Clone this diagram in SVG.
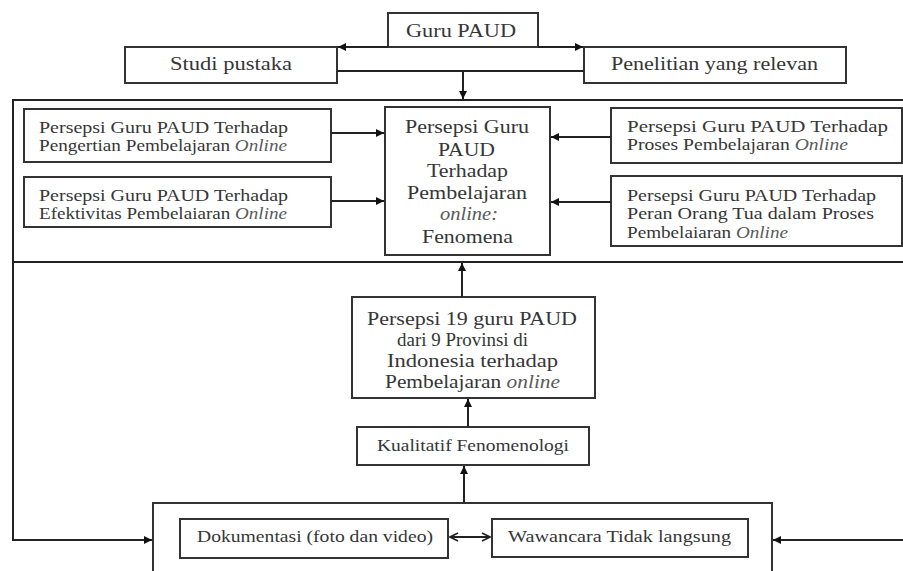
<svg xmlns="http://www.w3.org/2000/svg" width="903" height="571" viewBox="0 0 903 571">
<defs>
<style>
.box{fill:#fff;stroke:#333;stroke-width:2}
.ln{fill:none;stroke:#222;stroke-width:2}
.t{font-family:"Liberation Serif","Times New Roman",serif;fill:#363636}
.s17{font-size:17px}
.s18{font-size:18px}
.s19{font-size:19px}
.it{font-style:italic;fill:#5a5a5a}
</style>
<marker id="ah" viewBox="0 0 10 10" refX="10" refY="5" markerWidth="9" markerHeight="8" markerUnits="userSpaceOnUse" orient="auto">
<path d="M0,0 L10,5 L0,10 z" fill="#111"/>
</marker>
<marker id="oh" viewBox="0 0 10 10" refX="9" refY="5" markerWidth="10" markerHeight="10" markerUnits="userSpaceOnUse" orient="auto-start-reverse">
<path d="M1,1 L9,5 L1,9" fill="none" stroke="#222" stroke-width="1.6"/>
</marker>
</defs>
<rect width="903" height="571" fill="#fff"/>

<g id="frame">
<path class="ln" d="M903,100 H13 V262 H903"/>
</g>

<g id="guru">
<rect class="box" x="388" y="13" width="150" height="34"/>
<text class="t s18" x="406" y="37" textLength="110" lengthAdjust="spacingAndGlyphs">Guru PAUD</text>
</g>
<g id="studi">
<rect class="box" x="125" y="47" width="212" height="36"/>
<text class="t s18" x="170" y="70" textLength="122" lengthAdjust="spacingAndGlyphs">Studi pustaka</text>
</g>
<g id="penelitian">
<rect class="box" x="584" y="47" width="262" height="36"/>
<text class="t s18" x="611" y="70" textLength="207" lengthAdjust="spacingAndGlyphs">Penelitian yang relevan</text>
</g>

<g id="pengertian">
<rect class="box" x="24" y="109" width="307" height="53"/>
<text class="t s17" x="39" y="133" textLength="249" lengthAdjust="spacingAndGlyphs">Persepsi Guru PAUD Terhadap</text>
<text class="t s17" x="39" y="151" textLength="248" lengthAdjust="spacingAndGlyphs">Pengertian Pembelajaran <tspan class="it">Online</tspan></text>
</g>
<g id="efektivitas">
<rect class="box" x="24" y="177" width="307" height="50"/>
<text class="t s17" x="39" y="201" textLength="249" lengthAdjust="spacingAndGlyphs">Persepsi Guru PAUD Terhadap</text>
<text class="t s17" x="39" y="219" textLength="248" lengthAdjust="spacingAndGlyphs">Efektivitas Pembelaiaran <tspan class="it">Online</tspan></text>
</g>
<g id="fenomena">
<rect class="box" x="385" y="107" width="165" height="148"/>
<text class="t s19" x="405" y="133" textLength="124" lengthAdjust="spacingAndGlyphs">Persepsi Guru</text>
<text class="t s19" x="438" y="156" textLength="57" lengthAdjust="spacingAndGlyphs">PAUD</text>
<text class="t s19" x="427" y="177" textLength="81" lengthAdjust="spacingAndGlyphs">Terhadap</text>
<text class="t s19" x="407" y="199" textLength="120" lengthAdjust="spacingAndGlyphs">Pembelajaran</text>
<text class="t s19 it" x="440" y="220" textLength="58" lengthAdjust="spacingAndGlyphs">online:</text>
<text class="t s19" x="422" y="243" textLength="91" lengthAdjust="spacingAndGlyphs">Fenomena</text>
</g>
<g id="proses">
<rect class="box" x="611" y="108" width="291" height="55"/>
<text class="t s17" x="627" y="132" textLength="261" lengthAdjust="spacingAndGlyphs">Persepsi Guru PAUD Terhadap</text>
<text class="t s17" x="627" y="150" textLength="221" lengthAdjust="spacingAndGlyphs">Proses Pembelajaran <tspan class="it">Online</tspan></text>
</g>
<g id="peran">
<rect class="box" x="611" y="176" width="291" height="70"/>
<text class="t s17" x="627" y="201" textLength="249" lengthAdjust="spacingAndGlyphs">Persepsi Guru PAUD Terhadap</text>
<text class="t s17" x="627" y="219" textLength="247" lengthAdjust="spacingAndGlyphs">Peran Orang Tua dalam Proses</text>
<text class="t s17" x="627" y="238" textLength="161" lengthAdjust="spacingAndGlyphs">Pembelaiaran <tspan class="it">Online</tspan></text>
</g>

<g id="persepsi19">
<rect class="box" x="352" y="297" width="243" height="101"/>
<text class="t s19" x="367" y="325" textLength="210" lengthAdjust="spacingAndGlyphs">Persepsi 19 guru PAUD</text>
<text class="t s19" x="397" y="346" textLength="131" lengthAdjust="spacingAndGlyphs">dari 9 Provinsi di</text>
<text class="t s19" x="387" y="367" textLength="171" lengthAdjust="spacingAndGlyphs">Indonesia terhadap</text>
<text class="t s19" x="385" y="388" textLength="175" lengthAdjust="spacingAndGlyphs">Pembelajaran <tspan class="it">online</tspan></text>
</g>
<g id="kualitatif">
<rect class="box" x="357" y="427" width="232" height="38"/>
<text class="t s17" x="377" y="451" textLength="192" lengthAdjust="spacingAndGlyphs">Kualitatif Fenomenologi</text>
</g>

<g id="pengumpulan">
<rect class="box" x="153" y="503" width="619" height="90"/>
</g>
<g id="dokumentasi">
<rect class="box" x="180" y="519" width="268" height="39"/>
<text class="t s17" x="197" y="542" textLength="236" lengthAdjust="spacingAndGlyphs">Dokumentasi (foto dan video)</text>
</g>
<g id="wawancara">
<rect class="box" x="492" y="519" width="256" height="38"/>
<text class="t s17" x="508" y="542" textLength="223" lengthAdjust="spacingAndGlyphs">Wawancara Tidak langsung</text>
</g>

<g id="connectors">
<path class="ln" d="M388,47 H338" marker-end="url(#ah)"/>
<path class="ln" d="M538,47 H583" marker-end="url(#ah)"/>
<path class="ln" d="M337,71 H584"/>
<path class="ln" d="M463,71 V99" marker-end="url(#ah)"/>
<path class="ln" d="M331,133 H384" marker-end="url(#ah)"/>
<path class="ln" d="M331,201 H384" marker-end="url(#ah)"/>
<path class="ln" d="M611,137 H551" marker-end="url(#ah)"/>
<path class="ln" d="M611,202 H551" marker-end="url(#ah)"/>
<path class="ln" d="M462,297 V263" marker-end="url(#ah)"/>
<path class="ln" d="M468,427 V399" marker-end="url(#ah)"/>
<path class="ln" d="M464,503 V466" marker-end="url(#ah)"/>
<path class="ln" d="M13,262 V540 H152" marker-end="url(#ah)"/>
<path class="ln" d="M903,540 H773" marker-end="url(#ah)"/>
<path class="ln" d="M450,537 H490" stroke-width="1.6" marker-start="url(#oh)" marker-end="url(#oh)"/>
</g>
</svg>
